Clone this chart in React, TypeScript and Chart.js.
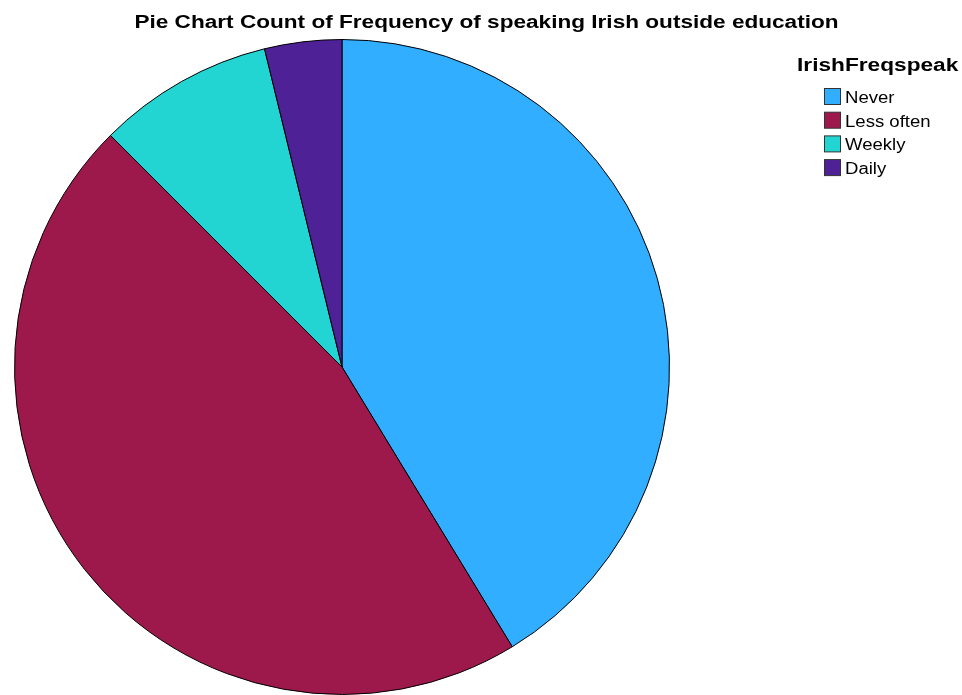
import React, { useEffect, useRef } from "react";
import { Chart, registerables } from "chart.js";

Chart.register(...registerables);

const chartTitle = "Pie Chart Count of Frequency of speaking Irish outside education";
const legendTitle = "IrishFreqspeak";
const categories = ["Never", "Less often", "Weekly", "Daily"];
const values = [41.3, 46.2, 8.7, 3.8];
const colors = ["#31AEFF", "#9E194B", "#23D5D2", "#4E2296"];

function stretchedText(ctx: CanvasRenderingContext2D, text: string, x: number, y: number, sx: number) {
  ctx.save();
  ctx.translate(x, y);
  ctx.scale(sx, 1);
  ctx.fillText(text, 0, 0);
  ctx.restore();
}

const textPlugin = {
  id: "customText",
  afterDraw(chart: any) {
    const ctx = chart.ctx as CanvasRenderingContext2D;
    ctx.save();
    ctx.fillStyle = "#000";
    ctx.textBaseline = "alphabetic";
    ctx.font = "bold 18px 'Liberation Sans', Arial, sans-serif";
    ctx.textAlign = "center";
    stretchedText(ctx, chartTitle, 486.5, 28, 1.255);
    ctx.textAlign = "left";
    stretchedText(ctx, legendTitle, 797, 71, 1.26);
    ctx.font = "16px 'Liberation Sans', Arial, sans-serif";
    categories.forEach((c, i) => {
      const y = 88 + i * 23.7;
      ctx.fillStyle = colors[i];
      ctx.fillRect(824.5, y + 0.5, 16, 16);
      ctx.strokeStyle = "#333";
      ctx.lineWidth = 1;
      ctx.strokeRect(824.5, y + 0.5, 16, 16);
      ctx.fillStyle = "#000";
      stretchedText(ctx, c, 845, y + 15, 1.16);
    });
    ctx.restore();
  },
};

export default function App() {
  const ref = useRef<HTMLCanvasElement>(null);
  useEffect(() => {
    const chart = new Chart(ref.current!, {
      type: "pie",
      data: {
        labels: categories,
        datasets: [
          {
            data: values,
            backgroundColor: colors,
            borderColor: "#000",
            borderWidth: 1,
          },
        ],
      },
      options: {
        responsive: false,
        animation: false,
        layout: { padding: { left: 14, right: 292, top: 39, bottom: 0 } },
        plugins: {
          legend: { display: false },
          title: { display: false },
          tooltip: { enabled: false },
        },
      },
      plugins: [textPlugin],
    });
    return () => chart.destroy();
  }, []);
  return (
    <div style={{ position: "absolute", left: 0, top: 0, width: 962, height: 695, background: "#fff" }}>
      <canvas ref={ref} width={962} height={695} />
    </div>
  );
}
